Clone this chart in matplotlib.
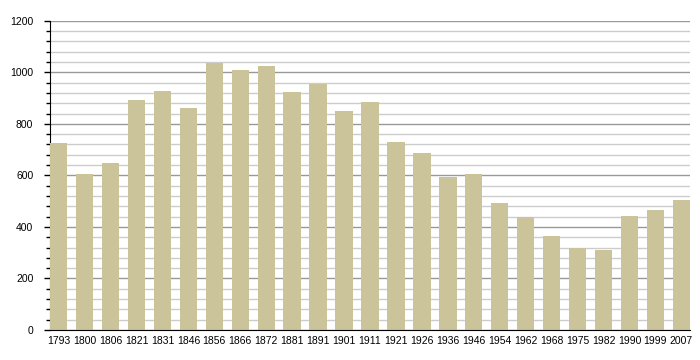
import matplotlib
matplotlib.use('Agg')
import matplotlib.pyplot as plt
from matplotlib.ticker import MultipleLocator

years = ['1793', '1800', '1806', '1821', '1831', '1846', '1856', '1866', '1872',
         '1881', '1891', '1901', '1911', '1921', '1926', '1936', '1946', '1954',
         '1962', '1968', '1975', '1982', '1990', '1999', '2007']
population = [724, 605, 648, 892, 927, 861, 1038, 1009, 1024, 923, 954, 850, 885,
              729, 687, 594, 605, 493, 438, 365, 318, 310, 442, 466, 504]

plt.rcParams['font.family'] = ['Liberation Sans', 'DejaVu Sans']

fig = plt.figure(figsize=(7, 3.6), dpi=100)
ax = fig.add_axes([0.0714, 0.0833, 0.9143, 0.859])

x = range(len(years))
ax.bar(x, population, width=0.67, color='#cbc39a', zorder=3)

ax.set_xlim(-0.335, len(years) - 1 + 0.335)
ax.set_ylim(0, 1200)
ax.yaxis.set_major_locator(MultipleLocator(200))
ax.yaxis.set_minor_locator(MultipleLocator(40))
ax.grid(which='major', axis='y', color='#999999', lw=1, zorder=1)
ax.grid(which='minor', axis='y', color='#cccccc', lw=1, zorder=1)

ax.set_xticks(list(x))
ax.set_xticklabels(years)
ax.tick_params(axis='x', length=0, pad=4, labelsize=7.5)
ax.tick_params(axis='y', which='major', length=4, width=1, pad=8, labelsize=7.5)
ax.tick_params(axis='y', which='minor', length=3, width=1)

for s in ['top', 'right']:
    ax.spines[s].set_visible(False)
ax.spines['left'].set_color('black')
ax.spines['bottom'].set_color('black')
ax.spines['bottom'].set_zorder(4)

fig.savefig('out.png', dpi=100)
